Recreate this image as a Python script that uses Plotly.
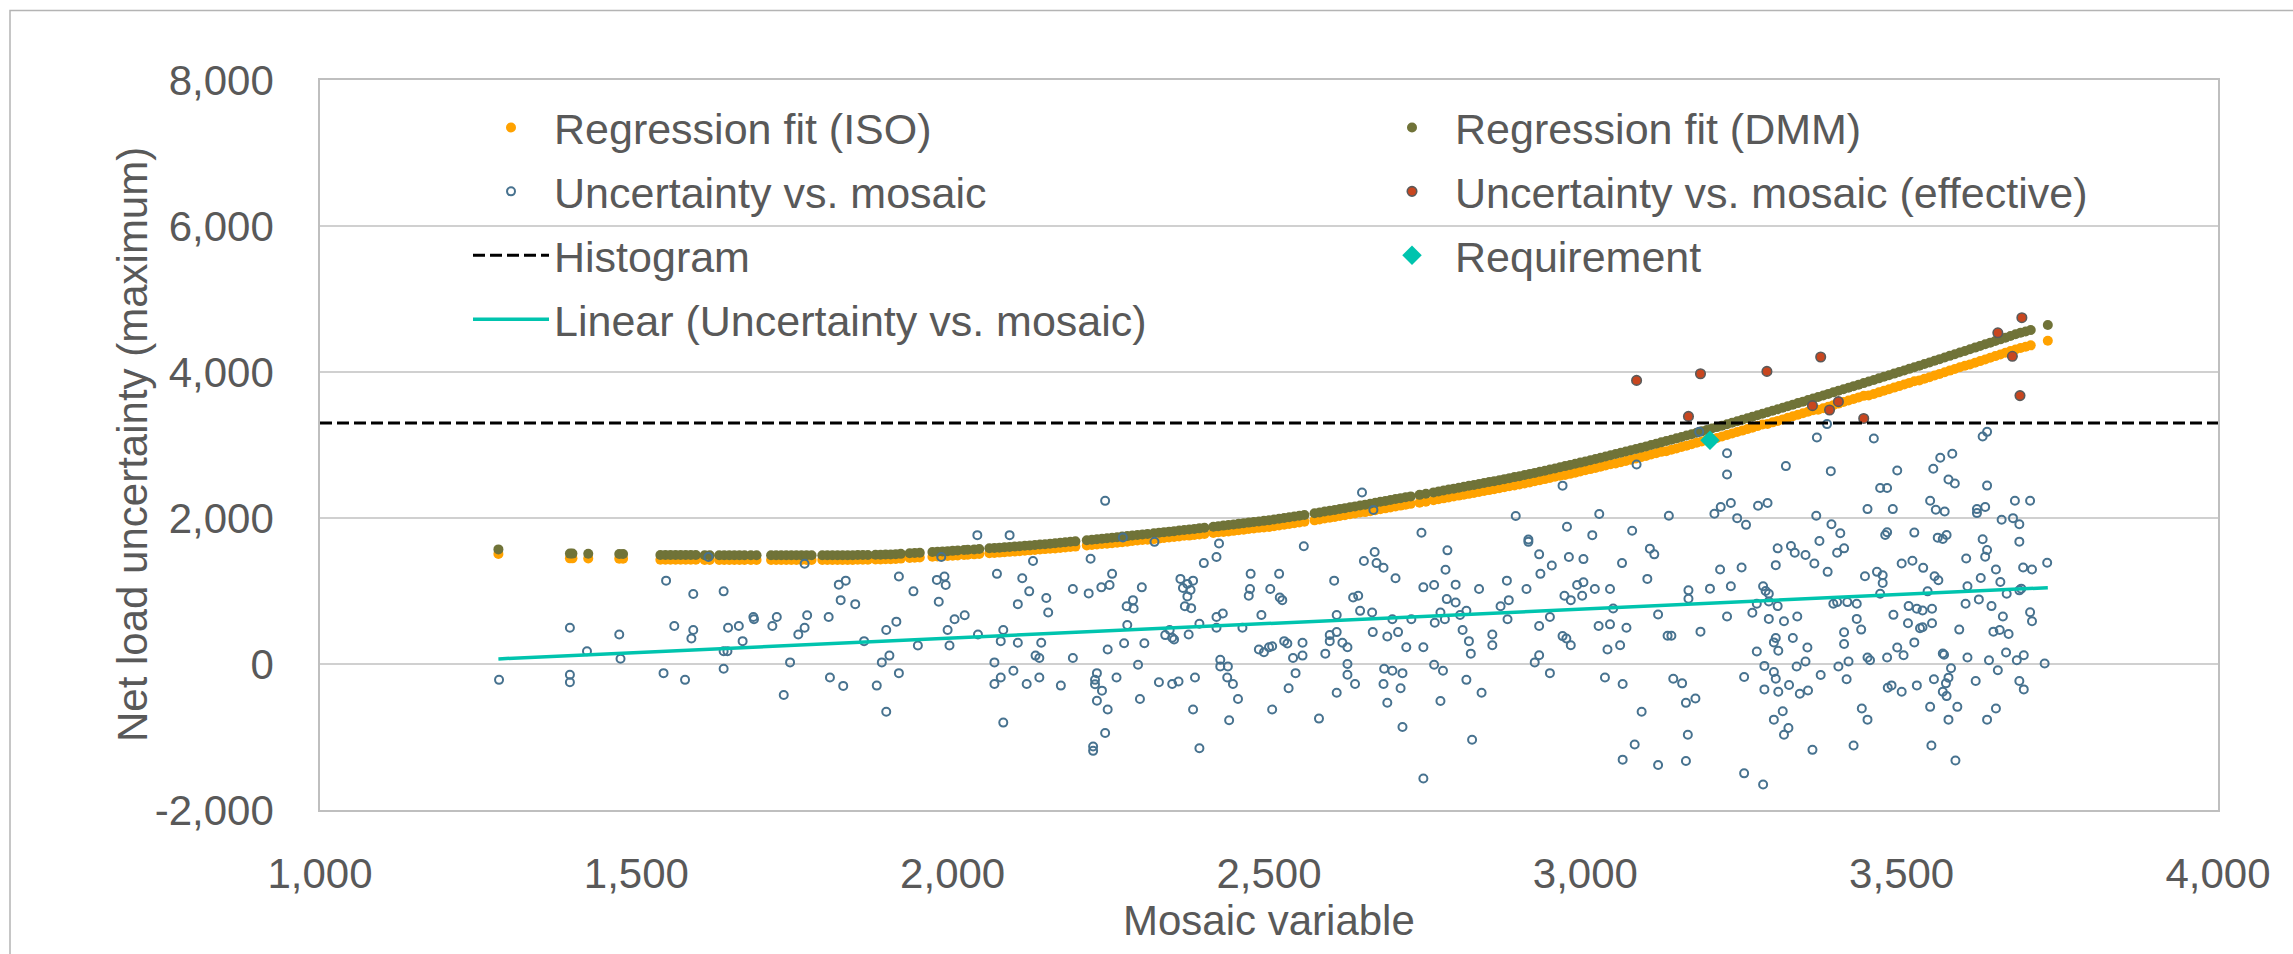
import plotly.graph_objects as go

# ---------------- data ----------------
# Uncertainty vs. mosaic (hollow circles)
unc_x = [
    1283, 1395, 1395, 1395, 1422, 1473, 1475,
    1547, 1560, 1590, 1590, 1587, 1614, 1638, 1645, 1638, 1644, 1638, 1662, 1668, 1685, 1686, 1715, 1722, 1743, 1733, 1756, 1766, 1770, 1766, 1804, 1806, 1827, 1820, 1831, 1823, 1543, 1577,
    1846, 1860, 1888, 1900, 1915, 1880, 1895, 1895, 1911, 1915, 1938, 1945, 1975, 1987, 1989, 1978, 1982, 1992, 1995, 2003, 2019, 2039, 2040, 2070, 2076, 2080, 2066, 2066, 2076, 2096, 2080, 2090, 2103, 2103, 2110, 2121, 2127, 2117, 2131, 2137, 2137, 2140, 2148, 2151,
    2171, 2190, 2190, 2218, 2215, 2235, 2248, 2252, 2241, 2269, 2275, 2285, 2286, 2276, 2271, 2245, 2299, 2303, 2293, 2228, 2225, 2225, 2236, 2228, 2245, 2259, 2241, 2222, 2222, 2296, 2319, 2326, 2336, 2343, 2347, 2350, 2347, 2357, 2360, 2364, 2371, 2376, 2380, 2371, 2367, 2377, 2373, 2390, 2383, 2380, 2390, 2397, 2417, 2421, 2417, 2427, 2417, 2423, 2423, 2435, 2434, 2443, 2451, 2437, 2458, 2470, 2468, 2471,
    2488, 2484, 2492, 2500, 2505, 2502, 2516, 2517, 2521, 2524, 2529, 2538, 2542, 2531, 2505, 2553, 2553, 2555, 2579, 2589, 2596, 2596, 2607, 2603, 2607, 2616, 2624, 2624, 2624, 2607, 2636, 2633, 2641, 2644, 2647, 2650, 2665, 2667, 2670, 2681, 2663, 2664, 2687, 2682, 2681, 2687, 2695, 2695, 2704, 2700, 2711, 2708, 2711, 2717, 2725, 2741, 2744, 2744, 2744, 2761, 2762, 2771, 2761, 2775, 2771, 2782, 2779, 2781, 2778,
    2795, 2795, 2802, 2812, 2806, 2816, 2819, 2812, 2836, 2821, 2832, 2853, 2853, 2866, 2876, 2879, 2877, 2890, 2910, 2910, 2907, 2927, 2929, 2927, 2927, 2920, 2944, 2944, 2947, 2964, 2971, 2974, 2967, 2977, 2964, 2970, 2977, 2987, 2997, 2995, 2997, 3011, 3015, 3022, 3021, 3039, 3039, 3044, 3035, 3055, 3065, 3058, 3074, 3081, 3031, 3059, 3089, 3078, 3059, 3098, 3102, 3109,
    3115, 3115, 3130, 3136, 3132, 3139, 3153, 3159, 3174, 3162, 3159, 3163, 3163, 3182, 3180, 3197, 3204, 3214, 3230, 3224, 3224, 3240, 3254, 3213, 3230, 3224, 3247, 3251, 3251, 3264, 3273, 3288, 3271, 3281, 3285, 3290, 3290, 3304, 3290, 3301, 3304, 3271, 3298, 3301, 3305, 3283, 3298, 3301, 3305, 3283, 3298, 3312, 3314, 3321, 3281, 3314, 3322, 3328, 3335, 3334, 3339, 3317, 3325, 3331, 3348, 3362, 3366, 3365, 3370, 3383, 3348, 3351, 3352, 3372, 3359, 3382, 3388, 3389, 3403, 3398, 3409, 3392, 3398, 3409, 3409, 3400, 3416, 3413, 3414,
    3456, 3493, 3466, 3477, 3446, 3486, 3474, 3477, 3520, 3550, 3561, 3580, 3574, 3584, 3545, 3554, 3568, 3557, 3565, 3571, 3628, 3635, 3635, 3619, 3619, 3632, 3628, 3635, 3632, 3679,
    3703, 3658, 3676, 3686, 3686, 3602, 3649, 3692, 3706, 3730, 3625, 3656, 3604, 3601, 3622, 3642, 3666, 3686, 3689, 3660, 3703, 3706, 3645, 3655, 3669, 3591, 3534, 3552, 3558, 3517,
    3500, 3541, 3511, 3524, 3533, 3548, 3510, 3529, 3533, 3548, 3487, 3461, 3470, 3470, 3466, 3442, 3429, 3429, 3436, 3493, 3503, 3520, 3477, 3446, 3450, 3565, 3567, 3578, 3604, 3638,
    3652, 3665, 3682, 3693, 3726, 3686, 3693, 3617, 3551, 3574, 3570, 3565, 3571, 3524, 3500, 3478, 3484, 3545, 3588, 3574, 3635, 3649, 3437, 3446, 3424, 3547, 3585,
]
unc_y = [
    -217, 497, -148, -250, 174, 405, 73,
    1142, 520, 958, 465, 350, 1465, 995, 497, 174, 174, -65, 520, 313, 645, 612, 520, 645, 22, -425, 405, 497, 668, 1373, 645, -185, -300, 1087, 1142, 875, -125, -217,
    820, 313, 22, 115, -125, -296, -655, 465, 580, 1198, 995, 253, 1152, 1198, 1083, 852, 1465, 465, 253, 612, 668, 1765, 405, 1235, 313, 465, 22, -273, -185, -93, -803, 1765, 820, 290, 1175, 995, 1410, -273, 115, 82, -185, 290, 903, 705,
    -296, 1027, 82, 1442, 967, 1050, 1083, 1235, 2235, 1733, 792, 875, 760, 534, 285, 198, 1050, 285, -10, -125, -217, -277, -365, -503, -623, -185, -946, -1130, -1190, -480, 1673, -250, 396, 465, 359, 336, -273, -240, 1166, 1041, 1096, 1013, 1142, 926, 792, 765, 405, 552, -185, -623, -1153, 1382, 1465, 1650, 645, 691, 497, 59, -33, -33, -185, -273, -480, -770, 497, 1027, 935, 1235,
    672, 198, 161, 230, 244, 1027, 1235, 912, 875, 313, 280, 82, -125, -333, -623, 290, 115, 1613, -748, 142, 396, 313, 437, 1142, 672, 290, 230, 0, -148, -393, -273, 912, 935, 728, 2350, 1410, 2111, 1534, 1382, 1318, 705, 437, 377, -65, -273, -531, -93, 612, 437, 1175, -125, -333, -863, 230, 612, 1797, 1050, 230, -1568, 1083, 566, 705, -10, -93, -508, 1557, 1290, 889, 612,
    1087, 843, 672, 728, 465, 313, 142, -217, -393, -1038, 1027, 405, 258, 792, 1142, 875, 612, 2028, 1705, 1673, 1027, 1502, 1235, 520, 119, 22, 645, -125, 1350, 2443, 1880, 1465, 935, 875, 382, 350, 258, 1083, 1120, 935, 1437, 1765, 1027, 2055, 520, 1027, 543, 760, 198, 258, 497, 1382, 1825, 2733, -185, -273, -655, -1103, -1310, 1166, 1580, 1502,
    678, -1383, 388, 388, 2030, -201, -265, -532, -472, -969, -1328, 1009, 894, 443, 3180, 1032, 2058, 2150, 2205, 2886, 2596, 1998, 1906, 1294, 1064, 650, 1322, -178, -1498, 701, 2168, 2205, 825, 1064, 1000, 963, 857, 793, 618, 1354, 1584, 172, 296, 356, 181, -26, -109, -201, -380, -348, -762, -647, -969, -877, -1650, 586, -288, 356, 650, -35, -408, 2711, 1616, 1524, 1492, 1377, 3102, 2030, 1685, 1262, 34, 227, -362, -150, -1176, 3286, 2642, 1915, 1791, 1524, 1584, 825, 848, 434, 273, -35, 34, -210, 848,
    3088, 2651, 2412, 2412, 2122, 2122, 1768, 1805, 1800, 2674, 2826, 2881, 2527, 2472, 2237, 2113, 2090, 1731, 1713, 1768, 3116, 3180, 2444, 2122, 2067, 2150, 1708, 1561, 1469, 2237,
    2237, 1975, 1998, 1915, 1676, 1446, 1294, 1322, 1294, 1386, 1179, 1124, 1064, 825, 885, 793, 963, 1009, 1032, 650, 710, 586, 443, 466, 411, 471, 1317, 1202, 1147, 1414,
    1377, 995, 793, 756, 733, 756, 558, 489, 503, 558, 673, 1262, 1216, 1110, 963, 1202, 825, 618, 471, 227, 121, 296, 89, 89, 52, 144, 126, -58, 89, 52,
    -86, 158, 52, 121, 6, -233, -348, -233, -210, -187, -265, -380, -440, -293, -380, -325, -293, -587, -587, -762, -762, -610, -610, -762, -1116, -1116, -1323,
]

# Regression fits (read along the two dotted bands)
reg_x = [
    1282, 1395, 1399, 1424, 1473, 1479,
    1538, 1546, 1554, 1562, 1570, 1578, 1586, 1594, 1608, 1616, 1631, 1639, 1647, 1655, 1663, 1671, 1681, 1690, 1713, 1721, 1729, 1737, 1745, 1753, 1761, 1769, 1777, 1794, 1802, 1810, 1818, 1826, 1834,
    1842, 1850, 1858, 1866, 1878, 1886, 1894, 1902, 1910, 1918, 1932, 1940, 1948, 1968, 1976, 1984, 1992, 2000, 2008, 2018, 2024, 2034, 2042, 2058, 2066, 2074, 2082, 2090, 2098, 2106, 2114, 2122, 2130, 2138, 2146, 2154,
    2162, 2170, 2178, 2186, 2194, 2212, 2220, 2228, 2236, 2244, 2252, 2260, 2268, 2276, 2284, 2292, 2300, 2308, 2318, 2326, 2334, 2342, 2350, 2358, 2366, 2374, 2382, 2390, 2398, 2412, 2420, 2428, 2436, 2444, 2452, 2460, 2468, 2476, 2484,
    2492, 2500, 2508, 2516, 2524, 2532, 2540, 2548, 2556, 2572, 2580, 2588, 2596, 2604, 2612, 2620, 2628, 2636, 2644, 2652, 2660, 2668, 2676, 2684, 2692, 2700, 2708, 2716, 2724, 2738, 2748, 2760, 2768, 2776, 2784, 2792, 2800,
    2808, 2816, 2824, 2832, 2840, 2848, 2856, 2864, 2872, 2880, 2888, 2896, 2904, 2912, 2920, 2928, 2936, 2944, 2952, 2960, 2968, 2976, 2984, 2992, 3000, 3008, 3016, 3024, 3032, 3040, 3048, 3056, 3064, 3072, 3080, 3088, 3096, 3104, 3112, 3120,
    3128, 3136, 3144, 3152, 3160, 3168, 3176, 3184, 3192, 3200, 3208, 3216, 3224, 3232, 3240, 3248, 3256, 3264, 3272, 3280, 3288, 3296, 3304, 3312, 3320, 3328, 3336, 3344, 3352, 3360,
    3368, 3376, 3384, 3392, 3400, 3408, 3416, 3424, 3432, 3440, 3448, 3456, 3464, 3472, 3480, 3488, 3496, 3504, 3512, 3520, 3528, 3536, 3544, 3552, 3560, 3568, 3576, 3584, 3592, 3600,
    3608, 3616, 3624, 3632, 3640, 3648, 3656, 3664, 3672, 3680, 3688, 3696, 3704, 3731,
]
reg_dmm = [
    1570, 1512, 1512, 1510, 1508, 1508,
    1492, 1492, 1492, 1492, 1492, 1492, 1492, 1492, 1490, 1490, 1490, 1490, 1490, 1490, 1490, 1490, 1490, 1490, 1489, 1489, 1489, 1489, 1489, 1489, 1489, 1489, 1489, 1490, 1490, 1490, 1490, 1490, 1490,
    1491, 1492, 1493, 1494, 1496, 1497, 1499, 1501, 1505, 1509, 1516, 1520, 1524, 1534, 1538, 1542, 1546, 1550, 1555, 1561, 1564, 1570, 1575, 1585, 1590, 1594, 1599, 1604, 1609, 1614, 1620, 1625, 1631, 1637, 1642, 1648,
    1655, 1661, 1667, 1674, 1680, 1695, 1702, 1709, 1716, 1723, 1730, 1737, 1745, 1752, 1760, 1767, 1775, 1782, 1791, 1798, 1806, 1813, 1820, 1828, 1836, 1843, 1851, 1858, 1866, 1880, 1888, 1896, 1904, 1912, 1920, 1928, 1937, 1945, 1953,
    1961, 1970, 1980, 1990, 2000, 2010, 2020, 2030, 2040, 2064, 2076, 2088, 2099, 2111, 2123, 2135, 2147, 2159, 2171, 2183, 2196, 2209, 2222, 2234, 2247, 2260, 2272, 2284, 2296, 2317, 2332, 2351, 2364, 2377, 2390, 2402, 2415,
    2428, 2441, 2453, 2466, 2479, 2492, 2505, 2518, 2532, 2546, 2560, 2573, 2588, 2603, 2618, 2633, 2648, 2664, 2679, 2695, 2711, 2727, 2743, 2759, 2775, 2792, 2808, 2825, 2842, 2859, 2876, 2893, 2911, 2928, 2946, 2964, 2981, 2999, 3017, 3036,
    3054, 3072, 3091, 3110, 3129, 3148, 3168, 3187, 3206, 3225, 3245, 3265, 3285, 3305, 3325, 3345, 3366, 3386, 3407, 3428, 3449, 3470, 3490, 3511, 3532, 3553, 3574, 3594, 3615, 3636,
    3657, 3679, 3700, 3721, 3742, 3763, 3784, 3806, 3827, 3848, 3870, 3891, 3913, 3934, 3956, 3978, 3999, 4021, 4043, 4065, 4087, 4109, 4131, 4154, 4176, 4198, 4221, 4243, 4266, 4288,
    4311, 4334, 4356, 4379, 4402, 4425, 4447, 4470, 4493, 4516, 4539, 4555, 4575, 4643,
]
reg_iso = [
    1508, 1447, 1447, 1445, 1443, 1443,
    1427, 1427, 1427, 1427, 1427, 1427, 1427, 1427, 1425, 1425, 1425, 1425, 1425, 1425, 1425, 1425, 1425, 1425, 1424, 1424, 1424, 1424, 1424, 1424, 1424, 1424, 1424, 1425, 1425, 1425, 1425, 1425, 1425,
    1426, 1427, 1428, 1429, 1431, 1432, 1434, 1436, 1440, 1444, 1451, 1455, 1459, 1469, 1473, 1477, 1481, 1482, 1487, 1493, 1496, 1502, 1507, 1517, 1522, 1526, 1531, 1536, 1541, 1546, 1552, 1557, 1563, 1569, 1574, 1580,
    1583, 1589, 1595, 1602, 1608, 1623, 1630, 1637, 1644, 1647, 1654, 1661, 1669, 1676, 1684, 1691, 1699, 1702, 1711, 1718, 1726, 1733, 1740, 1748, 1756, 1759, 1767, 1774, 1782, 1796, 1804, 1808, 1816, 1824, 1832, 1840, 1849, 1857, 1865,
    1869, 1878, 1888, 1898, 1908, 1918, 1928, 1938, 1948, 1968, 1980, 1992, 2003, 2015, 2027, 2039, 2051, 2063, 2075, 2081, 2094, 2107, 2120, 2132, 2145, 2158, 2170, 2182, 2194, 2209, 2224, 2243, 2256, 2269, 2282, 2294, 2307,
    2318, 2331, 2343, 2356, 2369, 2382, 2395, 2408, 2422, 2436, 2445, 2458, 2473, 2488, 2503, 2518, 2533, 2549, 2564, 2580, 2589, 2605, 2621, 2637, 2653, 2670, 2686, 2703, 2720, 2737, 2746, 2763, 2781, 2798, 2816, 2834, 2851, 2869, 2887, 2906,
    2916, 2934, 2953, 2972, 2991, 3010, 3030, 3049, 3068, 3087, 3097, 3117, 3137, 3157, 3177, 3197, 3218, 3238, 3259, 3280, 3289, 3310, 3330, 3351, 3372, 3393, 3414, 3434, 3455, 3476,
    3482, 3504, 3525, 3546, 3567, 3588, 3609, 3631, 3652, 3673, 3678, 3699, 3721, 3742, 3764, 3786, 3807, 3829, 3851, 3873, 3885, 3907, 3929, 3952, 3974, 3996, 4019, 4041, 4064, 4086,
    4104, 4127, 4149, 4172, 4195, 4218, 4240, 4263, 4286, 4309, 4329, 4345, 4365, 4427,
]

# Uncertainty vs. mosaic (effective) - red dots
eff_x = [3081, 3163, 3182, 3287, 3359, 3372, 3386, 3400, 3440, 3652, 3675, 3687, 3690]
eff_y = [3885, 3392, 3976, 4008, 3539, 4206, 3479, 3594, 3364, 4537, 4215, 3677, 4744]

# Requirement (diamond)
req_x = [3197]
req_y = [3065]

# Histogram level (dashed line across the plot)
hist_x = [1000, 4000]
hist_y = [3300, 3300]

# Linear trendline of Uncertainty vs. mosaic (end points)
lin_x = [1282, 3731]
lin_y = [70, 1045]

x_ticks = [1000, 1500, 2000, 2500, 3000, 3500, 4000]
x_tick_labels = ["1,000", "1,500", "2,000", "2,500", "3,000", "3,500", "4,000"]
y_ticks = [-2000, 0, 2000, 4000, 6000, 8000]
y_tick_labels = ["-2,000", "0", "2,000", "4,000", "6,000", "8,000"]

# ---------------- styling ----------------
FONT = "Liberation Sans, Arial, sans-serif"
TXT = "#595959"
FS = 42
ORANGE = "#FFA200"
OLIVE = "#707338"
BLUE = "#47728F"
RED = "#C8461F"
TEAL = "#00C4AE"

fig = go.Figure()

fig.add_trace(go.Scatter(
    x=reg_x, y=reg_iso, mode="markers", name="Regression fit (ISO)",
    marker=dict(color=ORANGE, size=10, line=dict(width=0)),
    legend="legend", legendgroup="a"))
fig.add_trace(go.Scatter(
    x=reg_x, y=reg_dmm, mode="markers", name="Regression fit (DMM)",
    marker=dict(color=OLIVE, size=10, line=dict(width=0)),
    legend="legend2", legendgroup="b"))
fig.add_trace(go.Scatter(
    x=unc_x, y=unc_y, mode="markers", name="Uncertainty vs. mosaic",
    marker=dict(color="rgba(0,0,0,0)", size=8, line=dict(color=BLUE, width=2)),
    legend="legend", legendgroup="c"))
fig.add_trace(go.Scatter(
    x=eff_x, y=eff_y, mode="markers", name="Uncertainty vs. mosaic (effective)",
    marker=dict(color=RED, size=9.5, line=dict(color="#5A5A5A", width=1.6)),
    legend="legend2", legendgroup="d"))
fig.add_trace(go.Scatter(
    x=hist_x, y=hist_y, mode="lines", name="Histogram",
    line=dict(color="black", width=3, dash="12px,5px"),
    legend="legend", legendgroup="e"))
fig.add_trace(go.Scatter(
    x=req_x, y=req_y, mode="markers", name="Requirement",
    marker=dict(color=TEAL, size=15, symbol="diamond", line=dict(width=0)),
    legend="legend2", legendgroup="f"))
fig.add_trace(go.Scatter(
    x=lin_x, y=lin_y, mode="lines", name="Linear (Uncertainty vs. mosaic)",
    line=dict(color=TEAL, width=3.5),
    legend="legend", legendgroup="g"))

W, H = 2293, 954
L, R, T, B = 320, 75, 80, 144
pw, ph = W - L - R, H - T - B

def px_x(px):
    return (px - L) / pw

def px_y(py):
    return (H - B - py) / ph

legend_common = dict(
    font=dict(family=FONT, size=43, color=TXT),
    bgcolor="rgba(0,0,0,0)", borderwidth=0,
    xanchor="left", yanchor="top", orientation="v",
    tracegroupgap=5, itemwidth=76, itemclick=False, itemdoubleclick=False,
)

fig.update_layout(
    width=W, height=H,
    margin=dict(l=L, r=R, t=T, b=B, pad=0),
    paper_bgcolor="white", plot_bgcolor="white",
    font=dict(family=FONT, size=FS, color=TXT),
    showlegend=True,
    legend=dict(x=px_x(468), y=px_y(93), **legend_common),
    legend2=dict(x=px_x(1369), y=px_y(93), **legend_common),
    xaxis=dict(
        range=[1000, 4000], tickvals=x_ticks, ticktext=x_tick_labels,
        showgrid=False, zeroline=False,
        showline=True, linecolor="#BFBFBF", linewidth=1.5, mirror=True,
        ticks="", ticklabelstandoff=26,
        tickfont=dict(family=FONT, size=FS, color=TXT),
    ),
    yaxis=dict(
        range=[-2000, 8000], tickvals=y_ticks, ticktext=y_tick_labels,
        showgrid=True, gridcolor="#D0D0D0", gridwidth=1.5, zeroline=False,
        showline=True, linecolor="#BFBFBF", linewidth=1.5, mirror=True,
        ticks="", ticklabelstandoff=36,
        tickfont=dict(family=FONT, size=FS, color=TXT),
    ),
    annotations=[
        dict(text="Mosaic variable", xref="paper", yref="paper",
             x=0.5, y=px_y(920), xanchor="center", yanchor="middle",
             showarrow=False, font=dict(family=FONT, size=FS, color=TXT)),
        dict(text="Net load uncertainty (maximum)", xref="paper", yref="paper",
             x=px_x(132), y=0.5, xanchor="center", yanchor="middle", textangle=-90,
             showarrow=False, font=dict(family=FONT, size=FS, color=TXT)),
    ],
    shapes=[
        dict(type="rect", xref="paper", yref="paper",
             x0=px_x(10), x1=px_x(2310), y0=px_y(970), y1=px_y(10.5),
             line=dict(color="#B4B4B4", width=1.5), fillcolor="rgba(0,0,0,0)",
             layer="below"),
    ],
)

fig.write_html("out.html", config={"displayModeBar": False},
               post_script="document.body.style.margin='0';document.body.style.overflow='hidden';")
